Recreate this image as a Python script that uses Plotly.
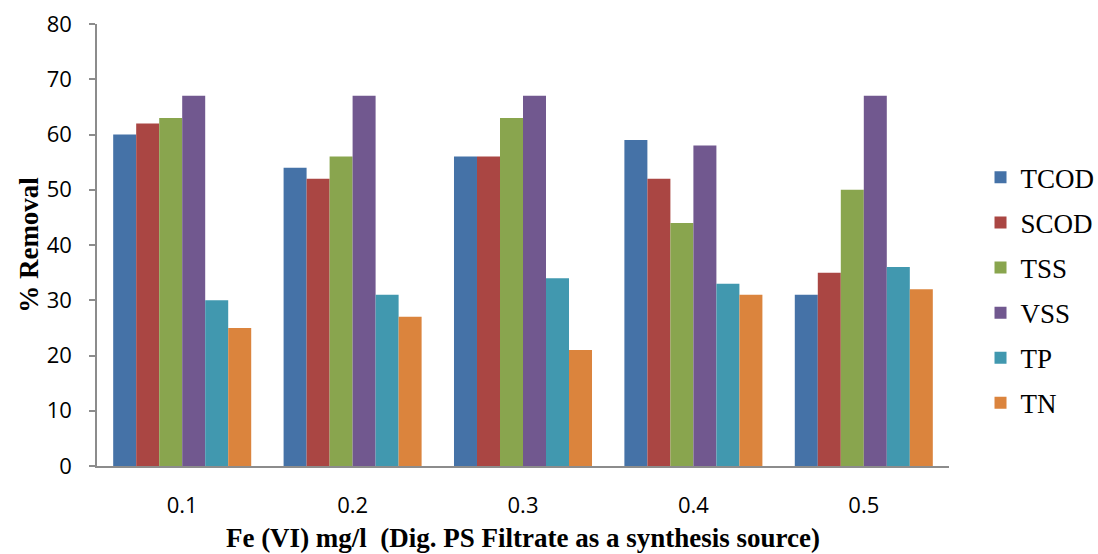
import plotly.graph_objects as go

# Fe(VI) dose (mg/l) and percentage removal of each parameter
doses = ["0.1", "0.2", "0.3", "0.4", "0.5"]
tcod = [60, 54, 56, 59, 31]
scod = [62, 52, 56, 52, 35]
tss = [63, 56, 63, 44, 50]
vss = [67, 67, 67, 58, 67]
tp = [30, 31, 34, 33, 36]
tn = [25, 27, 21, 31, 32]

series = [
    ("TCOD", tcod, "#4572A7"),
    ("SCOD", scod, "#AA4643"),
    ("TSS", tss, "#89A54E"),
    ("VSS", vss, "#71588F"),
    ("TP", tp, "#4198AF"),
    ("TN", tn, "#DB843D"),
]

fig = go.Figure()
for name, vals, color in series:
    fig.add_trace(go.Bar(
        x=doses, y=vals, name=name, legendgroup=name,
        marker=dict(color=color, line=dict(width=0)),
    ))

axis_grey = "#8c8c8c"
serif = "Liberation Serif, Times New Roman, serif"
fig.update_layout(
    width=1098, height=554,
    paper_bgcolor="white", plot_bgcolor="white",
    margin=dict(l=97, r=149, t=24, b=88),
    barmode="group", bargap=0.19, bargroupgap=0,
    font=dict(family="Open Sans, DejaVu Sans, sans-serif", color="#000000"),
    legend=dict(
        xref="container", yref="container",
        x=0.893, xanchor="left", y=0.476, yanchor="middle",
        font=dict(family=serif, size=27),
        traceorder="grouped", tracegroupgap=7,
        itemwidth=30,
    ),
    xaxis=dict(
        automargin=False,
        showline=True, linecolor=axis_grey, linewidth=1.5,
        ticks="", tickfont=dict(size=22), ticklabelstandoff=19,
        title=dict(
            text="Fe (VI) mg/l  (Dig. PS Filtrate as a synthesis source)",
            font=dict(family=serif, size=27, weight="bold"),
            standoff=10,
        ),
    ),
    yaxis=dict(
        automargin=False,
        range=[0, 80], dtick=10,
        showline=True, linecolor=axis_grey, linewidth=1.5,
        ticks="outside", ticklen=6, tickcolor=axis_grey, tickwidth=1.5,
        showgrid=False, zeroline=False,
        tickfont=dict(size=22), ticklabelstandoff=13,
        title=dict(
            text="% Removal",
            font=dict(family=serif, size=27, weight="bold"),
            standoff=0,
        ),
    ),
)

fig.write_html("out.html")
